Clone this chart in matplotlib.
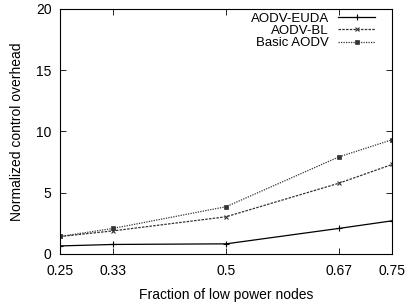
import matplotlib
matplotlib.use('Agg')
import matplotlib.pyplot as plt

plt.rcParams['font.family'] = ['Liberation Sans', 'DejaVu Sans']
plt.rcParams['font.size'] = 10

fractions = [0.25, 0.33, 0.5, 0.67, 0.75]
euda = [0.65, 0.77, 0.82, 2.08, 2.7]
bl = [1.42, 1.88, 3.03, 5.77, 7.3]
basic = [1.42, 2.08, 3.85, 7.92, 9.32]
xtick_labels = ['0.25', '0.33', '0.5', '0.67', '0.75']

fig = plt.figure(figsize=(4.08, 3.07), dpi=100)
ax = fig.add_axes([0.147, 0.173, 0.814, 0.798])

ax.plot(fractions, euda, color='black', lw=0.9, marker='+', ms=4, mew=0.8, label='AODV-EUDA')
ax.plot(fractions, bl, color='#333333', lw=0.9, ls=(0, (2, 1)), marker='x', ms=3.5, mew=0.8, label='AODV-BL')
ax.plot(fractions, basic, color='#333333', lw=0.9, ls=(0, (1, 1)), marker='s', ms=2.5, mew=0.5, label='Basic AODV')

ax.set_xlim(0.25, 0.75)
ax.set_ylim(0, 20)
ax.set_xticks(fractions)
ax.set_xticklabels(xtick_labels)
ax.set_yticks([0, 5, 10, 15, 20])
ax.tick_params(direction='in', top=True, right=True, length=4, width=0.6)
ax.tick_params(axis='x', pad=7)
ax.tick_params(axis='y', pad=6)
for s in ax.spines.values():
    s.set_linewidth(0.8)

ax.set_xlabel('Fraction of low power nodes')
ax.set_ylabel('Normalized control overhead')
ax.xaxis.set_label_coords(0.5, -0.14)
ax.yaxis.set_label_coords(-0.108, 0.5)

ax.legend(loc='upper right', bbox_to_anchor=(0.949, 0.985), frameon=False, markerfirst=False,
          fontsize=9.5, handlelength=2.8, labelspacing=0.0, borderpad=0, borderaxespad=0,
          handletextpad=0.7)

fig.savefig('out.png', dpi=100)
